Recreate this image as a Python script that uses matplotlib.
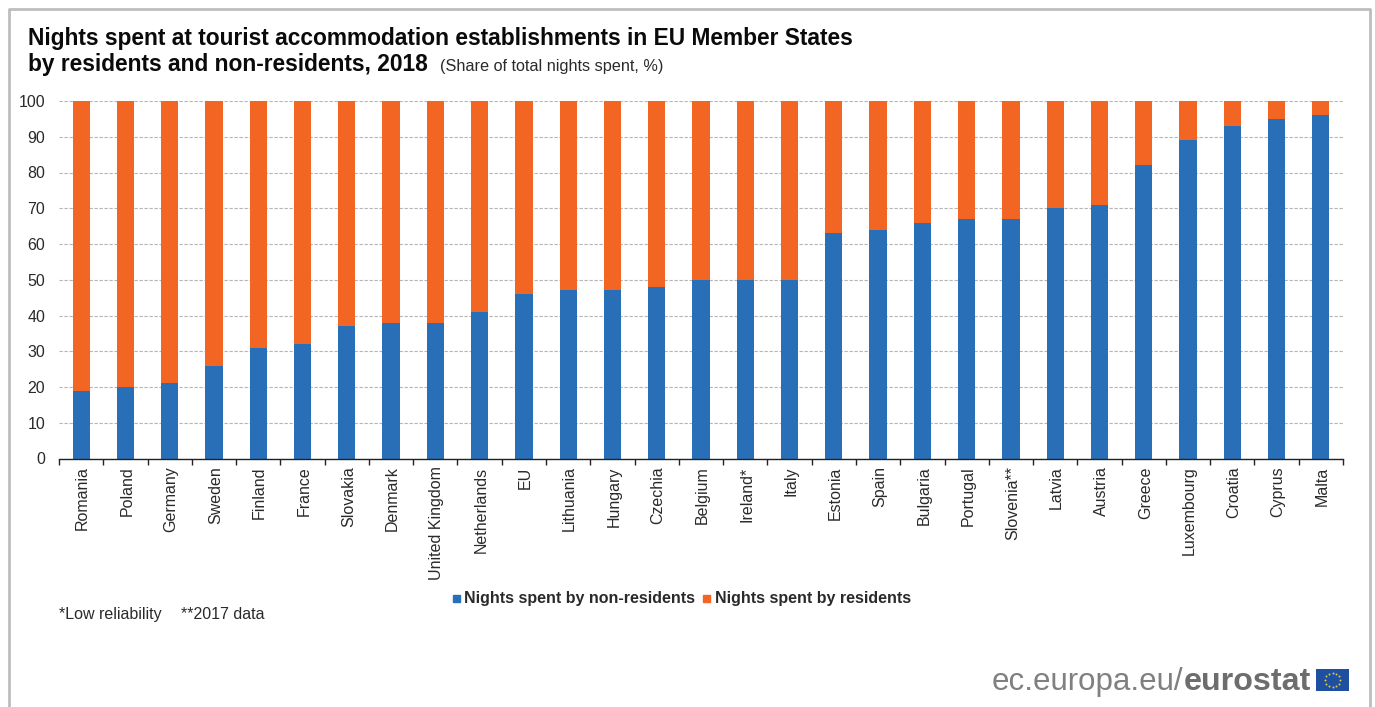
import matplotlib
matplotlib.use('Agg')
import matplotlib.pyplot as plt
from matplotlib.patches import Rectangle
from matplotlib.transforms import ScaledTranslation
import numpy as np

countries = ['Romania', 'Poland', 'Germany', 'Sweden', 'Finland', 'France', 'Slovakia', 'Denmark',
             'United Kingdom', 'Netherlands', 'EU', 'Lithuania', 'Hungary', 'Czechia', 'Belgium',
             'Ireland*', 'Italy', 'Estonia', 'Spain', 'Bulgaria', 'Portugal', 'Slovenia**', 'Latvia',
             'Austria', 'Greece', 'Luxembourg', 'Croatia', 'Cyprus', 'Malta']
non_residents = [19, 20, 21, 26, 31, 32, 37, 38, 38, 41, 46, 47, 47, 48, 50, 50, 50, 63, 64, 66, 67, 67,
                 70, 71, 82, 89, 93, 95, 96]
residents = [81, 80, 79, 74, 69, 68, 63, 62, 62, 59, 54, 53, 53, 52, 50, 50, 50, 37, 36, 34, 33, 33,
             30, 29, 18, 11, 7, 5, 4]
y_ticks = [0, 10, 20, 30, 40, 50, 60, 70, 80, 90, 100]

W, H = 1375, 707
BLUE = '#286FB7'
ORANGE = '#F26522'
TEXT = '#2a2a2a'

plt.rcParams['font.family'] = ['Liberation Sans', 'DejaVu Sans']

fig = plt.figure(figsize=(W / 100, H / 100), dpi=100)


# turning pixel positions into figure fractions
def fx(px):
    return px / W


def fy(py):
    return 1 - py / H


ax = fig.add_axes([fx(59), fy(458.5), fx(1343) - fx(59), fy(101) - fy(458.5)])
x = np.arange(len(countries))

ax.yaxis.grid(True, linestyle=(0, (3, 1.5)), color='#b5b5b5', linewidth=0.8)
ax.set_axisbelow(True)
ax.bar(x, non_residents, width=0.39, color=BLUE, zorder=2)
ax.bar(x, residents, width=0.39, bottom=non_residents, color=ORANGE, zorder=2)

ax.set_xlim(-0.5, len(countries) - 0.5)
ax.set_ylim(0, 100)
ax.set_yticks(y_ticks)
ax.tick_params(axis='y', length=0, labelsize=11.5, pad=10, labelcolor=TEXT)
ax.set_xticks(x)
ax.set_xticklabels(countries, rotation=90, fontsize=11.5, color=TEXT)
ax.set_xticks(np.arange(len(countries) + 1) - 0.5, minor=True)
ax.tick_params(axis='x', which='major', length=0, pad=5.7)
ax.tick_params(axis='x', which='minor', length=4, width=1, color='#222222')
# labels sit a little right of the bar centres in the original
for lab in ax.get_xticklabels():
    lab.set_transform(lab.get_transform() + ScaledTranslation(1.5 / 100, 0, fig.dpi_scale_trans))
for side in ['top', 'right', 'left']:
    ax.spines[side].set_visible(False)
ax.spines['bottom'].set_color('#222222')
ax.spines['bottom'].set_linewidth(1)

# titles
fig.text(fx(28), fy(38.5), 'Nights spent at tourist accommodation establishments in EU Member States',
         fontsize=16.4, fontweight='bold', va='center', color='#0a0a0a')
fig.text(fx(28), fy(64.5), 'by residents and non-residents, 2018',
         fontsize=16.4, fontweight='bold', va='center', color='#0a0a0a')
fig.text(fx(440), fy(66), '(Share of total nights spent, %)', fontsize=11.7, va='center', color=TEXT)

# legend
fig.patches.append(Rectangle((fx(453), fy(602)), 7 / W, 7 / H, transform=fig.transFigure, color=BLUE))
fig.text(fx(464), fy(598), 'Nights spent by non-residents', fontsize=11.5, fontweight='bold',
         va='center', color=TEXT)
fig.patches.append(Rectangle((fx(703), fy(602)), 7 / W, 7 / H, transform=fig.transFigure, color=ORANGE))
fig.text(fx(715), fy(598), 'Nights spent by residents', fontsize=11.5, fontweight='bold',
         va='center', color=TEXT)

fig.text(fx(59), fy(619), '*Low reliability', fontsize=11.5, va='baseline', color=TEXT)
fig.text(fx(181), fy(619), '**2017 data', fontsize=11.5, va='baseline', color=TEXT)

# eurostat logo text
fig.text(fx(992), fy(682), 'ec.europa.eu/', fontsize=22.5, va='center', color='#808080')
fig.text(fx(1184), fy(682), 'eurostat', fontsize=23.2, fontweight='bold', va='center', color='#6d6d6d')

# flag
flag = fig.add_axes([fx(1316), fy(691), 33 / W, 22 / H])
flag.set_facecolor('#1f4fa0')
flag.set_xlim(-1.5, 1.5)
flag.set_ylim(-1, 1)
flag.set_xticks([])
flag.set_yticks([])
for s in flag.spines.values():
    s.set_visible(False)
star_angles = np.arange(12) * np.pi / 6
flag.scatter(0.66 * np.cos(star_angles), 0.66 * np.sin(star_angles), s=2, color='#d8cf3a', marker='o',
             linewidths=0)

# grey frame, open at the bottom
frame_color = '#bdbdbd'
fig.add_artist(plt.Line2D([fx(9), fx(9), fx(1370), fx(1370)], [fy(707), fy(9), fy(9), fy(707)],
                          color=frame_color, linewidth=2, transform=fig.transFigure))

fig.savefig('out.png', dpi=100)
